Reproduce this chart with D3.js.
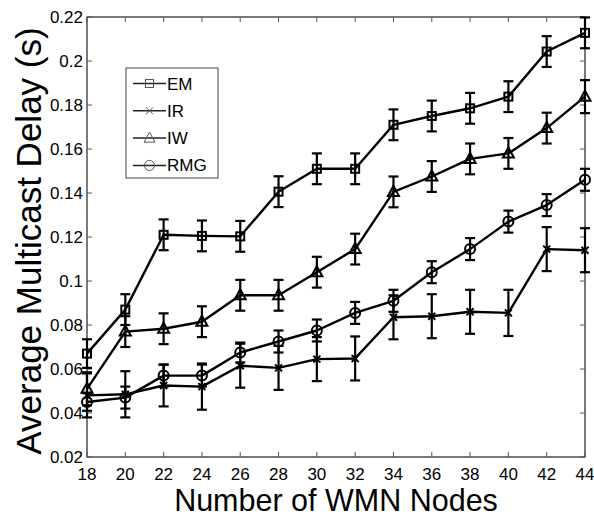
<!DOCTYPE html>
<html>
<head>
<meta charset="utf-8">
<script src="https://cdn.jsdelivr.net/npm/d3@7"></script>
<style>
  body { margin: 0; background: #fff; }
  text { font-family: "Liberation Sans", Arial, sans-serif; fill: #000; }
</style>
</head>
<body>
<script>
// number of nodes on the x axis
var nodes = [18, 20, 22, 24, 26, 28, 30, 32, 34, 36, 38, 40, 42, 44];

// mean delay (s) and error half-widths
var emDelay  = [0.067, 0.087, 0.121, 0.1205, 0.1203, 0.1406, 0.151, 0.151, 0.171, 0.175, 0.1785, 0.1838, 0.2043, 0.2128];
var emErr    = [0.0065, 0.007, 0.007, 0.007, 0.007, 0.007, 0.007, 0.007, 0.007, 0.007, 0.007, 0.007, 0.007, 0.007];
var irDelay  = [0.048, 0.0485, 0.0525, 0.052, 0.0615, 0.0605, 0.0645, 0.0648, 0.0835, 0.084, 0.086, 0.0855, 0.1145, 0.114];
var irErr    = [0.01, 0.0105, 0.0095, 0.0105, 0.01, 0.01, 0.01, 0.01, 0.01, 0.01, 0.01, 0.0105, 0.01, 0.01];
var iwDelay  = [0.051, 0.077, 0.0783, 0.0815, 0.0935, 0.0935, 0.104, 0.1145, 0.1405, 0.1475, 0.1555, 0.158, 0.1695, 0.1838];
var iwErr    = [0.0075, 0.007, 0.007, 0.007, 0.007, 0.007, 0.007, 0.007, 0.007, 0.007, 0.007, 0.007, 0.007, 0.0075];
var rmgDelay = [0.045, 0.047, 0.057, 0.057, 0.0675, 0.0725, 0.0775, 0.0855, 0.091, 0.104, 0.1145, 0.127, 0.1345, 0.146];
var rmgErr   = [0.004, 0.005, 0.005, 0.005, 0.0045, 0.005, 0.005, 0.005, 0.005, 0.005, 0.005, 0.005, 0.005, 0.005];

var seriesNames = ["EM", "IR", "IW", "RMG"];
var seriesMarks = ["square", "cross", "triangle", "circle"];
var yTicks = [0.02, 0.04, 0.06, 0.08, 0.1, 0.12, 0.14, 0.16, 0.18, 0.2, 0.22];

var W = 594, H = 519;
var L = 87, R = 585, T = 17, B = 457;

var x = d3.scaleLinear().domain([18, 44]).range([L, R]);
var y = d3.scaleLinear().domain([0.02, 0.22]).range([B, T]);

var svg = d3.select("body").append("svg")
    .attr("width", W)
    .attr("height", H);

var series = [
    { name: seriesNames[0], mark: seriesMarks[0], v: emDelay, e: emErr },
    { name: seriesNames[1], mark: seriesMarks[1], v: irDelay, e: irErr },
    { name: seriesNames[2], mark: seriesMarks[2], v: iwDelay, e: iwErr },
    { name: seriesNames[3], mark: seriesMarks[3], v: rmgDelay, e: rmgErr }
];

// marker drawer, (cx, cy) centre
function drawMark(g, kind, cx, cy, sw, col) {
    if (kind === "square") {
        g.append("rect").attr("x", cx - 4).attr("y", cy - 4).attr("width", 8).attr("height", 8)
            .attr("fill", "none").attr("stroke", col).attr("stroke-width", sw);
    } else if (kind === "circle") {
        g.append("circle").attr("cx", cx).attr("cy", cy).attr("r", 5)
            .attr("fill", "none").attr("stroke", col).attr("stroke-width", sw);
    } else if (kind === "triangle") {
        g.append("path").attr("d", "M" + cx + "," + (cy - 6) + "L" + (cx + 5.5) + "," + (cy + 4) + "L" + (cx - 5.5) + "," + (cy + 4) + "Z")
            .attr("fill", "none").attr("stroke", col).attr("stroke-width", sw);
    } else {
        g.append("path").attr("d", "M" + (cx - 3.5) + "," + (cy - 3.5) + "L" + (cx + 3.5) + "," + (cy + 3.5) +
                "M" + (cx - 3.5) + "," + (cy + 3.5) + "L" + (cx + 3.5) + "," + (cy - 3.5))
            .attr("fill", "none").attr("stroke", col).attr("stroke-width", sw);
    }
}

// axes box
svg.append("rect")
    .attr("x", L).attr("y", T)
    .attr("width", R - L).attr("height", B - T)
    .attr("fill", "none").attr("stroke", "#222").attr("stroke-width", 1.2);

// ticks on all four sides, pointing inward
var tk = svg.append("g").attr("stroke", "#555").attr("stroke-width", 1);
nodes.forEach(function (n) {
    tk.append("line").attr("x1", x(n)).attr("x2", x(n)).attr("y1", B).attr("y2", B - 5);
    tk.append("line").attr("x1", x(n)).attr("x2", x(n)).attr("y1", T).attr("y2", T + 5);
});
yTicks.forEach(function (v) {
    tk.append("line").attr("x1", L).attr("x2", L + 5).attr("y1", y(v)).attr("y2", y(v));
    tk.append("line").attr("x1", R).attr("x2", R - 5).attr("y1", y(v)).attr("y2", y(v));
});

svg.selectAll("xtick")
    .data(nodes)
    .enter()
    .append("text")
    .attr("x", function (d) { return x(d); })
    .attr("y", 480)
    .attr("text-anchor", "middle")
    .attr("font-size", "17px")
    .text(function (d) { return d; });

svg.selectAll("ytick")
    .data(yTicks)
    .enter()
    .append("text")
    .attr("x", L - 4)
    .attr("y", function (d) { return y(d) + 6; })
    .attr("text-anchor", "end")
    .attr("font-size", "17px")
    .text(function (d) { return String(+d.toFixed(2)); });

// axis titles
svg.append("text")
    .attr("x", (L + R) / 2)
    .attr("y", 511)
    .attr("text-anchor", "middle")
    .attr("font-size", "30.5px")
    .text("Number of WMN Nodes");

svg.append("text")
    .attr("transform", "translate(41," + 241 + ") rotate(-90)")
    .attr("text-anchor", "middle")
    .attr("font-size", "35px")
    .text("Average Multicast Delay (s)");

// series: line, error bars, markers
var line = d3.line()
    .x(function (d, i) { return x(nodes[i]); })
    .y(function (d) { return y(d); });

series.forEach(function (s) {
    var g = svg.append("g");
    g.append("path")
        .attr("d", line(s.v))
        .attr("fill", "none")
        .attr("stroke", "#000")
        .attr("stroke-width", 2.4)
        .attr("stroke-linejoin", "round");
    s.v.forEach(function (v, i) {
        var cx = x(nodes[i]);
        var y0 = y(v - s.e[i]), y1 = y(v + s.e[i]);
        var eb = g.append("g").attr("stroke", "#000").attr("stroke-width", 2.2);
        eb.append("line").attr("x1", cx).attr("x2", cx).attr("y1", y0).attr("y2", y1);
        eb.append("line").attr("x1", cx - 5).attr("x2", cx + 5).attr("y1", y0).attr("y2", y0);
        eb.append("line").attr("x1", cx - 5).attr("x2", cx + 5).attr("y1", y1).attr("y2", y1);
        drawMark(g, s.mark, cx, y(v), 2, "#000");
    });
});

// legend
var lg = svg.append("g");
lg.append("rect")
    .attr("x", 126).attr("y", 68)
    .attr("width", 92).attr("height", 110)
    .attr("fill", "#fff").attr("stroke", "#444").attr("stroke-width", 1);
series.forEach(function (s, i) {
    var ly = 83.5 + i * 27.3;
    lg.append("line")
        .attr("x1", 133).attr("x2", 166)
        .attr("y1", ly).attr("y2", ly)
        .attr("stroke", "#222").attr("stroke-width", 1.5);
    drawMark(lg, s.mark, 149.5, ly, 1, "#555");
    lg.append("text")
        .attr("x", 167)
        .attr("y", ly + 6)
        .attr("font-size", "17px")
        .text(s.name);
});
</script>
</body>
</html>
